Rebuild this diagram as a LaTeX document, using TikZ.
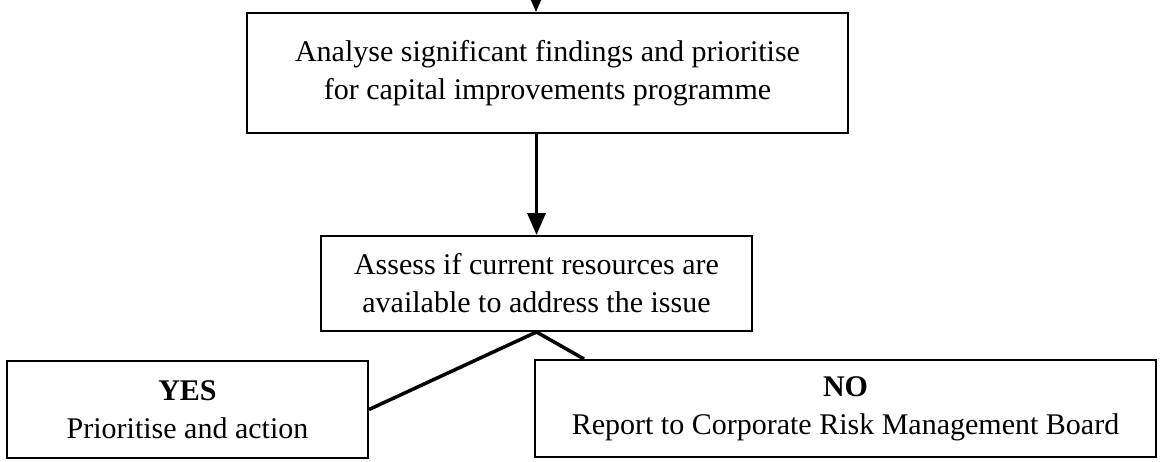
\documentclass[tikz,border=0pt]{standalone}
\usepackage{fontspec}
\setmainfont{Liberation Serif}
\usepackage{tikz}
\usetikzlibrary{arrows.meta,calc}
\tikzset{
  box/.style={draw, line width=1pt, align=center, inner sep=0pt,
    font=\fontsize{15}{19}\selectfont},
  flow/.style={line width=1.75pt, -{Triangle[length=11pt,width=9pt]}},
  link/.style={line width=1.75pt},
}

\begin{document}
\begin{tikzpicture}[x=0.5pt,y=0.5pt]
\useasboundingbox (0,0) rectangle (1160,461);
\node[box, minimum width=300.5pt, minimum height=60pt] (analyse) at (547.5,388)
  {Analyse significant findings and prioritise\\for capital improvements programme};
\node[box, minimum width=215.5pt, minimum height=47.5pt] (assess) at (536.5,177.5)
  {Assess if current resources are\\available to address the issue};
\node[box, minimum width=180.5pt, minimum height=48.5pt] (yes) at (187.5,51.5)
  {\textbf{YES}\\Prioritise and action};
\node[box, minimum width=310.5pt, minimum height=48.5pt] (no) at (845.5,52.5)
  {\textbf{NO}\\Report to Corporate Risk Management Board};
\coordinate (top) at (536,461);
\draw[flow] (top) -- (top |- analyse.north);
\draw[flow] (assess.north |- analyse.south) -- (assess.north);
\draw[link] (assess.south) -- (yes.east);
\draw[link] (assess.south) -- ($(no.north west)+(50,0)$);
\end{tikzpicture}
\end{document}
